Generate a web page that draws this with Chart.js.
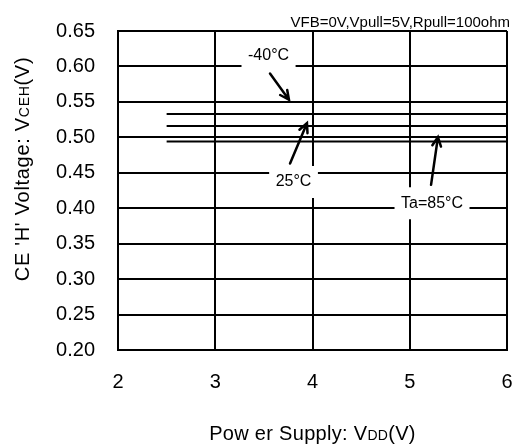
<!DOCTYPE html>
<html>
<head>
<meta charset="utf-8">
<script src="https://cdn.jsdelivr.net/npm/chart.js@4/dist/chart.umd.min.js"></script>
<style>
  html, body { margin: 0; padding: 0; background: #fff; }
  #wrap { width: 517px; height: 446px; }
</style>
</head>
<body>
<div id="wrap"><canvas id="vcehChart" width="517" height="446"></canvas></div>
<script>
const supplyRange = [2.5, 6];
const vcehMinus40 = [0.533, 0.533];
const vceh25 = [0.516, 0.516];
const vceh85 = [0.494, 0.494];
const xTicks = [2, 3, 4, 5, 6];
const yTicks = [0.20, 0.25, 0.30, 0.35, 0.40, 0.45, 0.50, 0.55, 0.60, 0.65];
const tempLabels = ['-40°C', '25°C', 'Ta=85°C'];

// callouts, placed in data units
const notes = [
    { text: tempLabels[0], at: [3.548, 0.615], from: [3.563, 0.590], to: [3.758, 0.553] },
    { text: tempLabels[1], at: [3.805, 0.437], from: [3.769, 0.463], to: [3.943, 0.520] },
    { text: tempLabels[2], at: [5.229, 0.407], from: [5.219, 0.433], to: [5.290, 0.5005] }
];

const FONT = '"Liberation Sans", Arial, Helvetica, sans-serif';
Chart.defaults.font.family = FONT;
Chart.defaults.color = '#000';

function line(values) {
    return {
        data: supplyRange.map((v, i) => ({ x: v, y: values[i] })),
        showLine: true,
        borderColor: '#000',
        borderWidth: 2,
        pointRadius: 0,
        fill: false
    };
}

// draws text pieces [text, size] on one baseline
function mixedText(ctx, parts, cx, cy, spacing) {
    ctx.letterSpacing = (spacing || 0) + 'px';
    let total = 0;
    parts.forEach(p => { ctx.font = p[1] + 'px ' + FONT; total += ctx.measureText(p[0]).width; });
    let x = cx - total / 2;
    ctx.textAlign = 'left';
    ctx.textBaseline = 'alphabetic';
    parts.forEach(p => {
        ctx.font = p[1] + 'px ' + FONT;
        ctx.fillText(p[0], x, cy);
        x += ctx.measureText(p[0]).width;
    });
    ctx.letterSpacing = '0px';
}

const deco = {
    id: 'deco',
    afterDatasetsDraw(chart) {
        const { ctx, scales: { x, y } } = chart;
        ctx.save();
        ctx.font = '16px ' + FONT;
        notes.forEach(n => {
            const cx = x.getPixelForValue(n.at[0]);
            const cy = y.getPixelForValue(n.at[1]);
            const w = ctx.measureText(n.text).width + 13;
            ctx.fillStyle = '#fff';
            ctx.fillRect(cx - w / 2, cy - 16, w, 32);
            ctx.fillStyle = '#000';
            ctx.textAlign = 'center';
            ctx.textBaseline = 'middle';
            ctx.fillText(n.text, cx, cy);

            const x1 = x.getPixelForValue(n.from[0]), y1 = y.getPixelForValue(n.from[1]);
            const x2 = x.getPixelForValue(n.to[0]), y2 = y.getPixelForValue(n.to[1]);
            const a = Math.atan2(y2 - y1, x2 - x1);
            ctx.strokeStyle = '#000';
            ctx.lineWidth = 2.5;
            ctx.lineCap = 'round';
            ctx.beginPath();
            ctx.moveTo(x1, y1);
            ctx.lineTo(x2, y2);
            ctx.moveTo(x2 - 10 * Math.cos(a - 0.45), y2 - 10 * Math.sin(a - 0.45));
            ctx.lineTo(x2, y2);
            ctx.lineTo(x2 - 10 * Math.cos(a + 0.45), y2 - 10 * Math.sin(a + 0.45));
            ctx.stroke();
        });
        ctx.restore();
    },
    afterDraw(chart) {
        const { ctx, chartArea } = chart;
        ctx.save();
        ctx.fillStyle = '#000';
        // condition text top right
        ctx.font = '15px ' + FONT;
        ctx.textAlign = 'right';
        ctx.textBaseline = 'alphabetic';
        ctx.fillText('VFB=0V,Vpull=5V,Rpull=100ohm', 510, 27);
        // x title
        mixedText(ctx, [['Pow er Supply: V', 20], ['DD', 14], ['(V)', 20]], (chartArea.left + chartArea.right) / 2, 440, 0.3);
        // y title
        ctx.translate(29, 169);
        ctx.rotate(-Math.PI / 2);
        mixedText(ctx, [["CE 'H' Voltage: V", 20], ['CEH', 14], ['(V)', 20]], 0, 0, 0.7);
        ctx.restore();
    }
};

new Chart(document.getElementById('vcehChart'), {
    type: 'scatter',
    data: { datasets: [line(vcehMinus40), line(vceh25), line(vceh85)] },
    options: {
        responsive: false,
        animation: false,
        layout: { padding: { top: 31, right: 10, left: 0, bottom: 0 } },
        plugins: { legend: { display: false }, tooltip: { enabled: false } },
        scales: {
            x: {
                type: 'linear',
                min: 2,
                max: 6,
                afterBuildTicks: s => { s.ticks = xTicks.map(v => ({ value: v })); },
                afterFit: s => { s.height = 96; s.paddingLeft = 0; s.paddingRight = 0; },
                ticks: { font: { size: 20 }, padding: 20, color: '#000' },
                grid: { color: '#000', lineWidth: 2, drawTicks: false },
                border: { color: '#000', width: 2 }
            },
            y: {
                type: 'linear',
                min: 0.2,
                max: 0.65,
                afterBuildTicks: s => { s.ticks = yTicks.map(v => ({ value: v })); },
                afterFit: s => { s.width = 118; s.paddingTop = 0; s.paddingBottom = 0; },
                ticks: { font: { size: 20 }, padding: 23, color: '#000', callback: v => v.toFixed(2) },
                grid: { color: '#000', lineWidth: 2, drawTicks: false },
                border: { color: '#000', width: 2 }
            }
        }
    },
    plugins: [deco]
});
</script>
</body>
</html>
